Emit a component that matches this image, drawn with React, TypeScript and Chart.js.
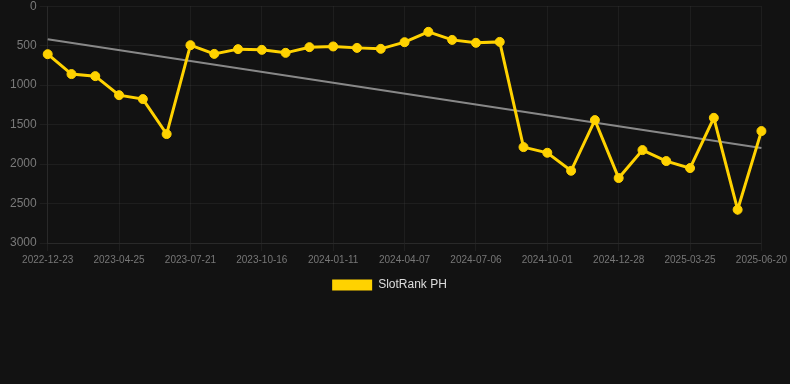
import React, { useEffect, useRef } from "react";
import { Chart, registerables } from "chart.js";

Chart.register(...registerables);

const dates: string[] = [
  "2022-12-23", "2023-01-31", "2023-03-14", "2023-04-25", "2023-05-24", "2023-06-22",
  "2023-07-21", "2023-08-19", "2023-09-17", "2023-10-16", "2023-11-14", "2023-12-13",
  "2024-01-11", "2024-02-09", "2024-03-09", "2024-04-07", "2024-05-07", "2024-06-06",
  "2024-07-06", "2024-08-04", "2024-09-02", "2024-10-01", "2024-10-30", "2024-11-29",
  "2024-12-28", "2025-01-26", "2025-02-24", "2025-03-25", "2025-04-23", "2025-05-22",
  "2025-06-20",
];

const rankValues: number[] = [
  608, 860, 886, 1127, 1177, 1620,
  494, 604, 544, 553, 591, 519,
  510, 528, 540, 456, 325, 427,
  464, 452, 1785, 1857, 2085, 1443,
  2177, 1823, 1962, 2051, 1414, 2578,
  1582,
];

const trendStart = 418;
const trendEnd = 1797;
const trendValues: (number | null)[] = dates.map((_, i) =>
  i === 0 ? trendStart : i === dates.length - 1 ? trendEnd : null
);

const yTicks: number[] = [0, 500, 1000, 1500, 2000, 2500, 3000];
const shownLabelStep = 3;

const legendShift = {
  id: "legendShift",
  afterLayout(chart: any) {
    if (chart.legend) {
      chart.legend.left -= 8;
      chart.legend.right -= 8;
    }
  },
};

export default function App() {
  const ref = useRef<HTMLCanvasElement | null>(null);
  useEffect(() => {
    document.body.style.margin = "0";
    document.body.style.background = "#121212";
    const ctx = ref.current!;
    const gridColor = "rgba(255,255,255,0.05)";
    const chart = new Chart(ctx, {
      type: "line",
      plugins: [legendShift],
      data: {
        labels: dates,
        datasets: [
          {
            label: "SlotRank PH",
            data: rankValues,
            borderColor: "#FFD200",
            backgroundColor: "#FFD200",
            borderWidth: 3,
            pointRadius: 4.5,
            pointBorderWidth: 1,
            pointHoverRadius: 4.5,
            pointBackgroundColor: "#FFD200",
            pointBorderColor: "#FFD200",
            tension: 0,
            order: 1,
          },
          {
            label: "trend",
            data: trendValues,
            borderColor: "rgba(150,150,150,0.9)",
            backgroundColor: "rgba(150,150,150,0.9)",
            borderWidth: 2,
            pointRadius: 0,
            spanGaps: true,
            order: 2,
          },
        ],
      },
      options: {
        animation: false,
        responsive: false,
        maintainAspectRatio: false,
        layout: { padding: { left: 7, right: 2, top: 0, bottom: 79 } },
        plugins: {
          legend: {
            position: "bottom",
            labels: {
              color: "#dddddd",
              font: { size: 12 },
              boxWidth: 40,
              boxHeight: 11,
              filter: (item) => item.text !== "trend",
              generateLabels: (c) =>
                Chart.defaults.plugins.legend.labels
                  .generateLabels(c)
                  .map((l) => ({ ...l, lineWidth: 0 })),
            },
          },
          tooltip: { enabled: false },
        },
        scales: {
          x: {
            grid: {
              color: (c) => (c.index % shownLabelStep === 0 ? gridColor : "rgba(0,0,0,0)"),
            },
            border: { color: gridColor },
            ticks: {
              color: "#777777",
              font: { size: 10 },
              autoSkip: false,
              maxRotation: 0,
              callback: (_v, i) => (i % shownLabelStep === 0 ? dates[i] : ""),
            },
          },
          y: {
            reverse: true,
            min: yTicks[0],
            max: yTicks[yTicks.length - 1],
            grid: { color: gridColor },
            border: { color: gridColor },
            ticks: {
              color: "#7a7a7a",
              font: { size: 12 },
              stepSize: 500,
              callback: (v) => String(v),
            },
            afterBuildTicks: (axis) => {
              axis.ticks = yTicks.map((v) => ({ value: v }));
            },
          },
        },
      },
    });
    return () => chart.destroy();
  }, []);
  return (
    <div style={{ width: 790, height: 384, background: "#121212", position: "relative", overflow: "hidden" }}>
      <canvas ref={ref} width={790} height={384} style={{ display: "block", marginTop: -4 }} />
    </div>
  );
}
